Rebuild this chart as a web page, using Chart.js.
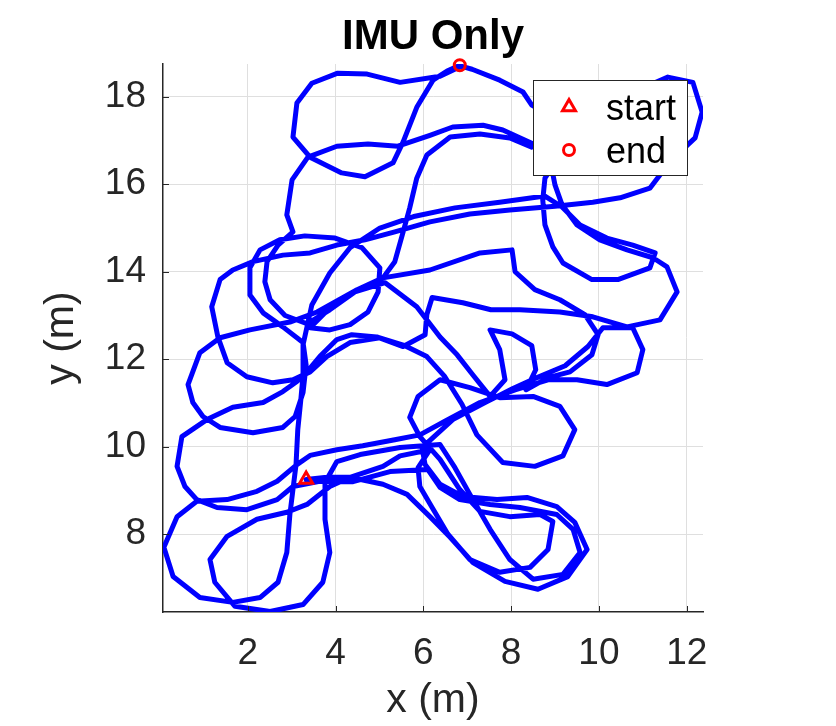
<!DOCTYPE html>
<html>
<head>
<meta charset="utf-8">
<title>IMU Only</title>
<script src="https://cdn.jsdelivr.net/npm/chart.js@4.4.1/dist/chart.umd.min.js"></script>
<style>
  body { margin: 0; background: #ffffff; }
  #wrap { width: 836px; height: 726px; }
</style>
</head>
<body>
<div id="wrap"><canvas id="imuChart" width="836" height="726"></canvas></div>
<script>
// Trajectory (m), one loop per line
var xPos = [
    3.33,3.80,4.33,5.08,5.63,6.15,6.61,7.13,7.86,8.61,9.29,9.73,9.45,9.04,8.36,7.68,6.90,6.38,6.04,5.97,
    6.67,7.45,8.04,8.59,9.23,9.75,10.09,10.77,11.00,10.87,10.18,9.50,8.84,8.09,7.29,6.49,5.92,5.35,4.62,4.03,3.42,
    3.12,2.67,2.21,1.53,0.84,0.39,0.09,0.30,0.91,1.66,2.28,2.69,2.89,2.96,3.03,3.10,3.14,3.21,3.26,3.26,3.46,3.87,4.33,
    5.01,5.81,6.72,7.74,8.77,9.16,9.57,10.18,10.77,11.28,11.16,10.43,9.84,9.18,8.95,8.77,8.72,8.77,
    9.34,10.36,11.57,12.14,12.35,12.19,11.85,11.44,11.16,10.48,9.86,
    9.00,7.97,7.06,6.15,5.35,4.67,4.03,3.42,2.80,2.12,1.66,1.37,1.18,1.32,1.53,1.98,2.57,3.03,3.42,3.80,4.33,5.01,5.58,6.08,6.49,6.88,7.22,7.81,8.54,9.18,9.45,9.11,8.50,7.74,7.06,6.38,5.88,5.69,5.92,
    6.38,6.83,7.29,7.97,8.66,8.95,8.84,8.43,7.74,7.06,6.56,6.20,5.92,5.88,6.15,
    5.47,5.08,4.33,3.87,3.35,2.89,2.21,1.53,1.14,1.25,1.71,2.51,3.26,3.71,3.87,3.76,3.76,4.03,4.56,5.47,6.38,
    6.72,7.06,7.52,7.97,8.50,9.18,9.57,9.41,9.04,8.20,7.52,6.83,6.38,6.10,
    5.24,4.40,3.64,3.03,2.67,1.98,1.30,0.84,0.57,0.39,0.50,1.07,1.66,2.35,2.80,3.12,3.35,3.64,4.03,4.37,4.94,5.54,
    6.04,6.08,6.20,6.90,7.54,8.20,9.11,9.86,10.64,11.39,11.78,11.55,11.23,10.64,10.02,9.50,9.16,9.00,8.93,
    8.77,8.47,7.81,7.36,6.67,6.15,5.42,4.74,4.03,3.37,3.01,2.89,3.03,2.69,2.44,2.39,2.51,2.85,3.35,3.87,4.44,5.13,5.85,6.38,6.77,7.13,7.52,
    7.86,7.74,7.52,8.02,8.47,8.56,8.34,8.84,9.34,9.84,9.98,9.68,9.11,8.54,8.09,8.02,
    7.29,6.15,5.08,4.49,3.58,2.96,2.05,1.37,
    0.91,0.64,0.75,0.98,1.37,2.12,2.80,3.08,3.26,
    3.33,3.26,2.80,2.35,2.05,2.05,2.28,2.73,3.30,3.99,4.60,5.01,4.97,4.74,4.33,3.87,3.42,
    3.80,4.49,5.08,5.35,5.54,5.69,5.85,6.08,6.61,7.29,7.97,8.47,8.77,8.66,
    8.47,8.27,7.74,7.11,6.86,6.38,5.47,4.72,4.05,3.46,3.12,3.03,3.42,4.14,4.67,5.31,5.54,5.85,6.22,6.54,6.83
];
var yPos = [
    9.25,9.30,9.30,9.14,8.91,8.40,7.93,7.35,6.92,6.74,7.03,7.65,8.27,8.63,8.84,8.79,8.86,9.14,9.59,9.98,
    10.62,11.03,11.33,11.58,11.85,12.29,12.72,12.72,12.22,11.69,11.42,11.53,11.53,11.30,11.01,10.58,10.27,10.16,10.02,9.93,9.80,
    9.59,9.21,8.98,8.79,8.75,8.40,7.70,7.03,6.55,6.44,6.55,6.90,7.58,8.45,9.02,9.59,10.39,11.08,11.64,12.33,13.24,13.97,14.55,
    15.00,15.27,15.46,15.59,15.73,15.48,15.07,14.77,14.61,14.43,14.09,13.82,13.82,14.20,14.57,15.07,15.64,16.14,
    17.01,17.92,18.45,18.33,17.65,17.06,16.74,16.28,15.91,15.69,15.59,
    15.50,15.41,15.32,15.14,14.91,14.73,14.61,14.43,14.38,14.23,14.04,13.82,13.20,12.51,11.92,11.60,11.46,11.53,11.71,12.06,12.38,12.49,12.31,12.06,11.60,10.97,10.27,9.64,9.55,9.79,10.39,10.92,11.15,11.12,11.35,11.53,11.15,10.67,10.23,
    9.71,9.02,8.52,8.40,8.45,8.29,7.65,7.24,7.13,7.42,8.00,8.61,9.09,9.52,9.93,
    9.79,9.55,9.30,9.09,8.68,8.50,8.34,7.95,7.42,6.90,6.35,6.23,6.39,6.90,7.58,8.34,9.18,9.66,9.82,9.98,10.05,
    9.52,8.91,8.11,7.42,6.97,7.08,7.58,8.11,8.45,8.61,8.68,8.79,9.07,9.48,
    9.43,9.20,9.21,9.09,8.79,8.56,8.61,8.79,9.09,9.55,10.23,10.62,10.90,11.01,11.26,11.49,11.71,12.06,12.45,12.56,12.51,12.29,
    12.56,13.02,13.41,13.29,13.13,13.13,13.08,12.97,12.74,12.90,13.54,14.11,14.32,14.50,14.73,15.07,15.53,15.98,16.33,
    16.67,16.94,17.24,17.35,17.31,17.12,16.87,16.92,16.87,16.62,16.10,15.30,14.91,14.61,14.23,13.77,13.36,13.00,12.81,13.13,13.54,13.75,13.20,12.51,12.10,11.64,11.15,
    11.53,12.22,12.67,12.58,12.31,11.76,11.30,11.58,11.71,12.10,12.56,13.02,13.36,13.59,14.00,14.50,
    14.43,14.04,13.86,13.59,13.08,12.85,12.67,12.49,
    12.15,11.42,11.01,10.69,10.44,10.32,10.44,10.69,11.24,
    11.87,12.38,12.74,13.06,13.47,14.09,14.50,14.73,14.82,14.77,14.55,14.09,13.54,13.08,12.79,12.67,12.72,
    13.10,13.59,13.86,14.23,14.91,15.46,16.14,16.67,17.08,17.15,17.06,16.85,17.24,17.70,
    17.81,18.11,18.38,18.63,18.70,18.47,18.33,18.52,18.54,18.31,17.86,17.08,16.62,16.26,16.17,16.49,16.97,17.76,18.38,18.59,18.72
];

var startPoint = { x: 3.33, y: 9.25 };
var endPoint = { x: 6.83, y: 18.72 };

var xTicks = [2, 4, 6, 8, 10, 12];
var yTicks = [8, 10, 12, 14, 16, 18];
var xLimits = [0.07, 12.37];
var yLimits = [6.22, 18.75];

var legendLabels = ['start', 'end'];

var FONT = "'Liberation Sans', Arial, Helvetica, sans-serif";
var AXIS_GREY = '#262626';

var track = xPos.map(function (x, i) { return { x: x, y: yPos[i] }; });

// Title, axis labels, inward tick marks and the legend box
var decorations = {
    id: 'decorations',
    afterDatasetsDraw: function (chart) {
        var c = chart.ctx;
        var area = chart.chartArea;
        var left = area.right - 170, top = area.top + 16, w = 154, h = 95;
        c.save();
        c.fillStyle = '#ffffff';
        c.fillRect(left, top, w, h);
        c.strokeStyle = '#262626';
        c.lineWidth = 1;
        c.strokeRect(left + 0.5, top + 0.5, w, h);

        c.strokeStyle = '#ff0000';
        c.fillStyle = 'rgba(0,0,0,0)';
        c.lineWidth = 3;
        Chart.helpers.drawPoint(c, { pointStyle: 'triangle', radius: 7.5, rotation: 0, borderWidth: 3 }, left + 36, top + 27);
        Chart.helpers.drawPoint(c, { pointStyle: 'circle', radius: 5.5, rotation: 0, borderWidth: 3 }, left + 36, top + 70);

        c.fillStyle = '#000000';
        c.font = '36px ' + FONT;
        c.textAlign = 'left';
        c.textBaseline = 'alphabetic';
        c.fillText(legendLabels[0], left + 73, top + 40);
        c.fillText(legendLabels[1], left + 73, top + 83);
        c.restore();
    },
    afterDraw: function (chart) {
        var c = chart.ctx;
        var area = chart.chartArea;
        var xs = chart.scales.x, ys = chart.scales.y;
        var cx = (area.left + area.right) / 2;
        var cy = (area.top + area.bottom) / 2;
        c.save();

        // inward ticks
        c.strokeStyle = AXIS_GREY;
        c.lineWidth = 1;
        xTicks.forEach(function (v) {
            var px = Math.round(xs.getPixelForValue(v)) + 0.5;
            c.beginPath();
            c.moveTo(px, area.bottom);
            c.lineTo(px, area.bottom - 6);
            c.stroke();
        });
        yTicks.forEach(function (v) {
            var py = Math.round(ys.getPixelForValue(v)) + 0.5;
            c.beginPath();
            c.moveTo(area.left, py);
            c.lineTo(area.left + 6, py);
            c.stroke();
        });

        // title
        c.fillStyle = '#000000';
        c.font = 'bold 42px ' + FONT;
        c.textAlign = 'center';
        c.textBaseline = 'alphabetic';
        c.fillText('IMU Only', cx, 49);

        // axis titles
        c.fillStyle = AXIS_GREY;
        c.font = '41px ' + FONT;
        c.textBaseline = 'middle';
        c.fillText('x (m)', cx, 701);
        c.translate(62, cy);
        c.rotate(-Math.PI / 2);
        c.fillText('y (m)', 0, 0);
        c.restore();
    }
};

var ctx = document.getElementById('imuChart').getContext('2d');
var imuChart = new Chart(ctx, {
    type: 'scatter',
    data: {
        datasets: [
            {
                label: 'start',
                data: [startPoint],
                pointStyle: 'triangle',
                pointRadius: 7.5,
                borderColor: '#ff0000',
                backgroundColor: 'rgba(0,0,0,0)',
                borderWidth: 3,
                clip: false,
                order: 0
            },
            {
                label: 'end',
                data: [endPoint],
                pointStyle: 'circle',
                pointRadius: 5.5,
                borderColor: '#ff0000',
                backgroundColor: 'rgba(0,0,0,0)',
                borderWidth: 3,
                clip: false,
                order: 0
            },
            {
                label: 'IMU',
                data: track,
                showLine: true,
                borderColor: '#0000ff',
                backgroundColor: '#0000ff',
                borderWidth: 5,
                pointRadius: 0,
                tension: 0,
                borderJoinStyle: 'round',
                borderCapStyle: 'round',
                order: 1
            }
        ]
    },
    options: {
        responsive: false,
        animation: false,
        devicePixelRatio: 1,
        layout: { padding: { left: 0, right: 133, top: 64, bottom: 0 } },
        plugins: {
            legend: { display: false },
            tooltip: { enabled: false },
            title: { display: false }
        },
        scales: {
            x: {
                type: 'linear',
                min: xLimits[0],
                max: xLimits[1],
                afterBuildTicks: function (scale) {
                    scale.ticks = xTicks.map(function (v) { return { value: v }; });
                },
                afterFit: function (scale) { scale.height = 114; },
                grid: { color: '#dfdfdf', lineWidth: 1, drawTicks: false },
                border: { color: AXIS_GREY, width: 1.5 },
                ticks: {
                    font: { family: FONT, size: 37 },
                    color: AXIS_GREY,
                    padding: 20,
                    maxRotation: 0,
                    autoSkip: false
                }
            },
            y: {
                type: 'linear',
                min: yLimits[0],
                max: yLimits[1],
                afterBuildTicks: function (scale) {
                    scale.ticks = yTicks.map(function (v) { return { value: v }; });
                },
                afterFit: function (scale) { scale.width = 163; },
                grid: { color: '#dfdfdf', lineWidth: 1, drawTicks: false },
                border: { color: AXIS_GREY, width: 1.5 },
                ticks: {
                    font: { family: FONT, size: 37 },
                    color: AXIS_GREY,
                    padding: 17,
                    autoSkip: false
                }
            }
        }
    },
    plugins: [decorations]
});
</script>
</body>
</html>
